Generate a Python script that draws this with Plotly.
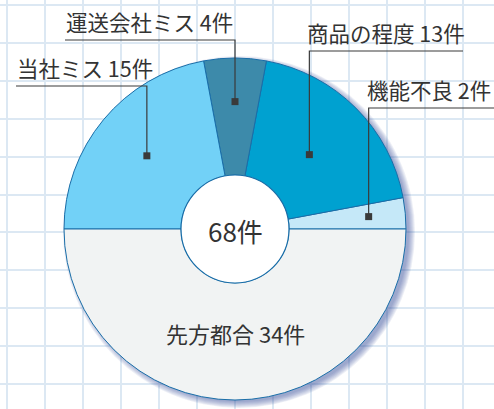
import math
import plotly.graph_objects as go

# ---- data ----
labels = ["機能不良", "商品の程度", "運送会社ミス", "当社ミス", "先方都合"]
values = [2, 13, 4, 15, 34]
unit = "件"

# ---- styles ----
slice_colors = ["#c5e8f8", "#00a1d0", "#3d8aaa", "#72d1f7", "#f1f3f3"]
border = "#1a6ea8"
text_color = "#333333"
grid_color = "#dce8f3"
FONT = "Noto Sans CJK JP"

W, H = 494, 409
CX, CY, R = 235, 229, 171
HOLE_R = 54

# label placement (layout, not data)
place = {
    "当社ミス":   dict(r=0.67, line_y=86, line_end=16, side="left"),
    "運送会社ミス": dict(r=0.745, line_y=40, line_end=65, side="left"),
    "商品の程度": dict(r=0.615, line_y=51, line_end=463, side="right"),
    "機能不良":   dict(r=0.785, line_y=108, line_end=494, side="right"),
}
inside_label = dict(name="先方都合", r=0.61)


def dom(cx, cy, r):
    return dict(x=[(cx - r) / W, (cx + r) / W],
                y=[(H - cy - r) / H, (H - cy + r) / H])


total = sum(values)
first_deg = values[0] / total * 360

fig = go.Figure()

# shadow layers
for k in range(7):
    fig.add_trace(go.Pie(
        values=[1], labels=["s"], sort=False, textinfo="none", hoverinfo="skip",
        marker=dict(colors=["rgba(60,80,150,0.09)"], line=dict(width=0)),
        domain=dom(CX + 4, CY + 3, R - 1 + k), showlegend=False))

# main donut
fig.add_trace(go.Pie(
    labels=labels, values=values, sort=False, direction="counterclockwise",
    rotation=90 - first_deg, hole=HOLE_R / R, textinfo="none", hoverinfo="skip",
    marker=dict(colors=slice_colors, line=dict(color=border, width=1)),
    domain=dom(CX, CY, R), showlegend=False))

# white centre disc
fig.add_trace(go.Pie(
    values=[1], labels=["c"], sort=False, textinfo="none", hoverinfo="skip",
    marker=dict(colors=["#ffffff"], line=dict(color=border, width=1.2)),
    domain=dom(CX, CY, HOLE_R), showlegend=False))

shapes = []
annotations = []

cum = 0
for lab, v in zip(labels, values):
    mid = (cum + v / 2) / total * 2 * math.pi
    cum += v
    if lab in place:
        p = place[lab]
        mx = CX + p["r"] * R * math.cos(mid)
        my = CY - p["r"] * R * math.sin(mid)
        ly = p["line_y"]
        shapes.append(dict(type="path", xref="x", yref="y", layer="above",
                           path=f"M {p['line_end']},{ly} L {mx},{ly} L {mx},{my}",
                           line=dict(color="#3a3a3a", width=1.2)))
        shapes.append(dict(type="rect", xref="x", yref="y", layer="above",
                           x0=mx - 3.5, x1=mx + 3.5, y0=my - 3.5, y1=my + 3.5,
                           fillcolor="#3a3a3a", line=dict(width=0)))
        tx = p["line_end"] - 1 if p["side"] == "left" else mx - 4
        annotations.append(dict(x=tx, y=ly - 19, xref="x", yref="y",
                                xanchor="left", yanchor="middle", showarrow=False,
                                text=f"{lab} {v}{unit}",
                                font=dict(family=FONT, size=21.5, color=text_color)))
    elif lab == inside_label["name"]:
        rr = inside_label["r"] * R
        annotations.append(dict(x=CX + rr * math.cos(mid), y=CY - rr * math.sin(mid),
                                xref="x", yref="y", showarrow=False,
                                text=f"{lab} {v}{unit}",
                                font=dict(family=FONT, size=22, color=text_color)))

annotations.append(dict(x=CX, y=CY + 1, xref="x", yref="y", showarrow=False,
                        text=f"{total}{unit}",
                        font=dict(family=FONT, size=26, color=text_color)))

fig.update_layout(
    width=W, height=H, margin=dict(l=0, r=0, t=0, b=0),
    paper_bgcolor="white", plot_bgcolor="white",
    xaxis=dict(range=[0, W], tick0=7, dtick=38, showgrid=True, gridcolor=grid_color,
               gridwidth=1.5, showticklabels=False, zeroline=False, showline=False,
               fixedrange=True),
    yaxis=dict(range=[H, 0], tick0=5, dtick=37.9, showgrid=True, gridcolor=grid_color,
               gridwidth=1.5, showticklabels=False, zeroline=False, showline=False,
               fixedrange=True),
    shapes=shapes, annotations=annotations, showlegend=False,
)

fig.write_html("out.html", config={"displayModeBar": False},
               post_script="document.body.style.margin='0';document.body.style.overflow='hidden';")
